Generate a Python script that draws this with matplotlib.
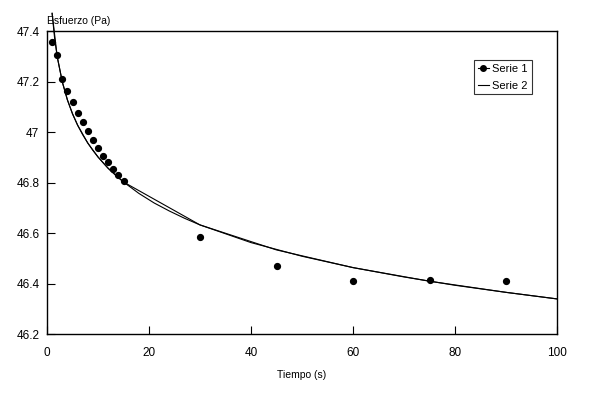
import matplotlib.pyplot as plt
from matplotlib.lines import Line2D

plt.rcParams['font.family'] = ['Liberation Sans', 'DejaVu Sans']

# Serie 1: measured points
t_serie1 = [1, 2, 3, 4, 5, 6, 7, 8, 9, 10, 11, 12, 13, 14, 15, 30, 45, 60, 75, 90]
y_serie1 = [47.355, 47.304, 47.211, 47.162, 47.118, 47.074, 47.038, 47.003,
            46.967, 46.935, 46.905, 46.880, 46.852, 46.830, 46.805,
            46.586, 46.469, 46.409, 46.413, 46.409]

# Serie 2: model values at the measurement times
t_serie2 = [1, 2, 3, 4, 5, 6, 7, 8, 9, 10, 11, 12, 13, 14, 15, 30, 45, 60, 75, 90, 100]
y_serie2 = [47.470, 47.298, 47.198, 47.127, 47.072, 47.027, 46.989, 46.956,
            46.927, 46.901, 46.878, 46.856, 46.837, 46.819, 46.802,
            46.632, 46.533, 46.463, 46.409, 46.365, 46.339]

# smooth trend curve
t_trend = [1, 1.5, 2, 3, 4, 5, 6, 8, 10, 12, 15, 18, 21, 24, 27, 30,
           40, 50, 60, 70, 80, 90, 100]
y_trend = [47.470, 47.369, 47.298, 47.198, 47.127, 47.072, 47.027, 46.956,
           46.901, 46.856, 46.802, 46.757, 46.719, 46.687, 46.658, 46.632,
           46.562, 46.508, 46.463, 46.426, 46.393, 46.365, 46.339]

x_ticks = [0, 20, 40, 60, 80, 100]
y_ticks = [46.2, 46.4, 46.6, 46.8, 47, 47.2, 47.4]
y_tick_labels = ['46.2', '46.4', '46.6', '46.8', '47', '47.2', '47.4']

fig = plt.figure(figsize=(5.93, 3.93), dpi=100)
ax = fig.add_axes([0.0793, 0.1501, 0.86, 0.771])

ax.plot(t_trend, y_trend, color='black', lw=0.8, clip_on=False)
ax.plot(t_serie2, y_serie2, color='black', lw=0.8, clip_on=False)
ax.plot(t_serie1, y_serie1, 'o', color='black', markersize=4.2)

ax.set_xlim(0, 100)
ax.set_ylim(46.2, 47.4)
ax.set_xticks(x_ticks)
ax.set_yticks(y_ticks)
ax.set_yticklabels(y_tick_labels)
ax.tick_params(direction='in', length=6, width=0.8, labelsize=8.5)
ax.tick_params(axis='y', pad=5.5)
ax.tick_params(axis='x', pad=9)
for s in ax.spines.values():
    s.set_linewidth(1.0)

# y axis title sits above the plot, left-aligned
fig.text(47 / 593, 1 - 21 / 393, 'Esfuerzo (Pa)', fontsize=7.5, va='center', ha='left')
ax.set_xlabel('Tiempo (s)', fontsize=7.5, labelpad=8)

h1 = Line2D([], [], color='black', lw=0.8, marker='o', markersize=4)
h2 = Line2D([], [], color='black', lw=0.8)
leg = fig.legend([h1, h2], ['Serie 1', 'Serie 2'], loc='upper left',
                 bbox_to_anchor=(474 / 593, 1 - 60 / 393), fontsize=8,
                 frameon=True, fancybox=False, edgecolor='black',
                 handlelength=1.0, handletextpad=0.3, borderpad=0.35,
                 labelspacing=0.6, borderaxespad=0)
leg.get_frame().set_linewidth(0.8)

plt.savefig('out.png', dpi=100)
plt.close()
